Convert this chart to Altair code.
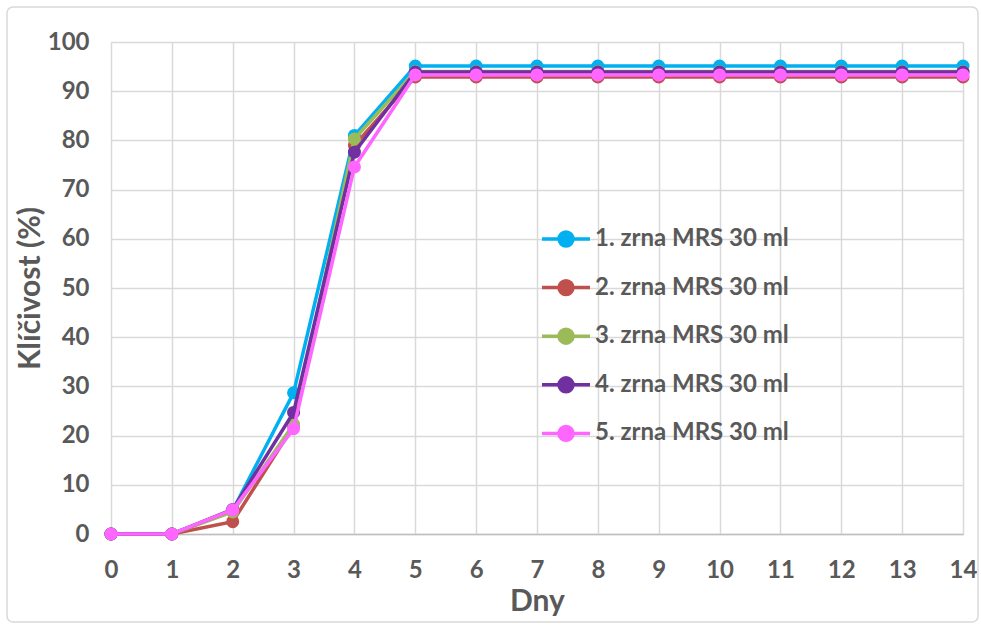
import altair as alt
import pandas as pd

days = list(range(15))
series_names = ["1. zrna MRS 30 ml", "2. zrna MRS 30 ml", "3. zrna MRS 30 ml",
                "4. zrna MRS 30 ml", "5. zrna MRS 30 ml"]
s1 = [0, 0, 4.8, 28.7, 81.0] + [95.1] * 10
s2 = [0, 0, 2.5, 22.0, 79.0] + [92.9] * 10
s3 = [0, 0, 4.5, 22.3, 80.3] + [94.0] * 10
s4 = [0, 0, 5.0, 24.7, 77.6] + [93.9] * 10
s5 = [0, 0, 4.9, 21.4, 74.6] + [93.3] * 10
colors = ["#00b0f0", "#c0504d", "#9bbb59", "#7030a0", "#ff66ff"]

rows = []
for i, (name, vals) in enumerate(zip(series_names, [s1, s2, s3, s4, s5])):
    for d, v in zip(days, vals):
        rows.append({"Dny": d, "val": v, "series": name, "order": i})
df = pd.DataFrame(rows)

FONT = "Lato, Carlito, Liberation Sans, sans-serif"
sym = "M-1,0L1,0M-0.29,0A0.29,0.29 0 1,0 0.29,0A0.29,0.29 0 1,0 -0.29,0Z"

color = alt.Color(
    "series:N",
    scale=alt.Scale(domain=series_names, range=colors),
    legend=alt.Legend(
        title=None, orient="none", legendX=429, legendY=171,
        symbolType=sym, symbolSize=2304, symbolStrokeWidth=3.5,
        labelFontSize=24, labelFont=FONT,
        labelFontWeight="bold", labelColor="#595959", rowPadding=8.6,
        labelOffset=3, labelLimit=400,
    ),
)

x = alt.X("Dny:Q", scale=alt.Scale(domain=[0, 14], nice=False),
          axis=alt.Axis(values=days, title="Dny", format="d",
                        labelFontSize=24, labelFontWeight="bold", labelColor="#595959",
                        titleFontSize=30, titleFontWeight="bold", titleColor="#595959",
                        titlePadding=4, labelPadding=24, labelFont=FONT, titleFont=FONT,
                        grid=True, gridColor="#d9d9d9", gridWidth=1.5,
                        domain=True, domainColor="#bfbfbf", domainWidth=1.5,
                        ticks=False, labelFlush=False))
y = alt.Y("val:Q", scale=alt.Scale(domain=[0, 100], nice=False),
          axis=alt.Axis(values=list(range(0, 101, 10)), title="Klíčivost (%)",
                        labelFontSize=24, labelFontWeight="bold", labelColor="#595959",
                        titleFontSize=30, titleFontWeight="bold", titleColor="#595959",
                        titlePadding=2, labelPadding=22, labelFont=FONT, titleFont=FONT,
                        grid=True, gridColor="#d9d9d9", gridWidth=1.5,
                        domain=False, ticks=False))

frame = alt.Chart(pd.DataFrame({"a": [0]})).mark_rect(
    fill="transparent", stroke="#d9d9d9", strokeWidth=1.5, cornerRadius=6, clip=False
).encode(x=alt.value(-104), x2=alt.value(867), y=alt.value(-35), y2=alt.value(580))

layers = []
for i, name in enumerate(series_names):
    sub = df[df.series == name]
    c = alt.Chart(sub)
    layers.append(c.mark_line(strokeWidth=3.5).encode(x=x, y=y, color=color))
    layers.append(c.mark_circle(size=170, opacity=1).encode(x=x, y=y, color=color))

chart = alt.layer(frame, *layers).properties(
    width=852, height=492,
    autosize=alt.AutoSizeParams(type="none"),
    padding={"left": 111, "top": 42, "right": 18, "bottom": 94},
).configure_view(stroke=None).configure(
    font=FONT, background="white"
)

chart.save("out.html", embed_options={"renderer": "svg", "actions": False})
